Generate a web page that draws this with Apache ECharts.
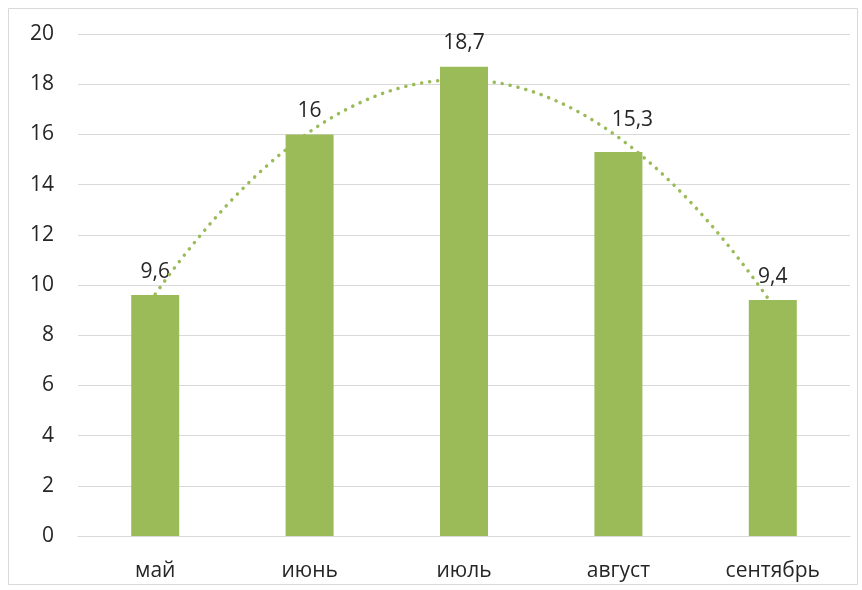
<!DOCTYPE html>
<html>
<head>
<meta charset="utf-8">
<script src="https://cdn.jsdelivr.net/npm/echarts@6/dist/echarts.min.js"></script>
<style>
  html, body { margin: 0; padding: 0; background: #fff; }
  #main { width: 862px; height: 590px; }
</style>
</head>
<body>
<div id="main"></div>
<script>
// months and average temperature
const months = ['май', 'июнь', 'июль', 'август', 'сентябрь'];
const temps = [9.6, 16, 18.7, 15.3, 9.4];
const yTicks = { min: 0, max: 20, interval: 2 };

// polynomial (2nd order) trendline, least squares fit like Excel does
function quadFit(ys) {
  let s = [0, 0, 0, 0, 0], sy = [0, 0, 0];
  ys.forEach((y, i) => {
    for (let k = 0; k < 5; k++) s[k] += Math.pow(i, k);
    for (let k = 0; k < 3; k++) sy[k] += y * Math.pow(i, k);
  });
  const m = [[s[0], s[1], s[2], sy[0]], [s[1], s[2], s[3], sy[1]], [s[2], s[3], s[4], sy[2]]];
  for (let c = 0; c < 3; c++) {
    for (let r = c + 1; r < 3; r++) {
      const f = m[r][c] / m[c][c];
      for (let k = c; k < 4; k++) m[r][k] -= f * m[c][k];
    }
  }
  const x = [0, 0, 0];
  for (let r = 2; r >= 0; r--) {
    let v = m[r][3];
    for (let k = r + 1; k < 3; k++) v -= m[r][k] * x[k];
    x[r] = v / m[r][r];
  }
  return x;
}
const coef = quadFit(temps);
const trend = [];
for (let t = 0; t <= (temps.length - 1) * 20; t++) {
  const xv = t / 20;
  trend.push([xv, coef[0] + coef[1] * xv + coef[2] * xv * xv]);
}

// the август label was dragged up and to the right in the original
const barData = temps.map((v, i) => i === 3 ? { value: v, label: { offset: [14, -8] } } : v);

const font = 'Open Sans, Liberation Sans, sans-serif';
const chart = echarts.init(document.getElementById('main'), null, { renderer: 'canvas' });
chart.setOption({
  animation: false,
  backgroundColor: '#fff',
  graphic: [{
    type: 'rect',
    shape: { x: 8.5, y: 8.5, width: 849, height: 576 },
    style: { fill: 'none', stroke: '#d9d9d9', lineWidth: 1 },
    silent: true
  }],
  grid: { left: 78, right: 12, top: 34, bottom: 54 },
  xAxis: [{
    type: 'category',
    data: months,
    axisLine: { show: true, lineStyle: { color: '#d9d9d9' } },
    axisTick: { show: false },
    axisLabel: { color: '#262626', fontSize: 21, fontFamily: font, margin: 25 }
  }, {
    type: 'value',
    min: -0.5,
    max: temps.length - 0.5,
    show: false
  }],
  yAxis: {
    type: 'value',
    min: yTicks.min,
    max: yTicks.max,
    interval: yTicks.interval,
    axisLine: { show: false },
    axisTick: { show: false },
    splitLine: { lineStyle: { color: '#d9d9d9', width: 1 } },
    axisLabel: { color: '#262626', fontSize: 21, fontFamily: font, margin: 24 }
  },
  series: [{
    type: 'bar',
    data: barData,
    barWidth: 48,
    itemStyle: { color: '#9bbb59' },
    label: {
      show: true,
      position: 'top',
      distance: 13,
      color: '#262626',
      fontSize: 21,
      fontFamily: font,
      formatter: p => String(p.value).replace('.', ',')
    }
  }, {
    type: 'line',
    xAxisIndex: 1,
    data: trend,
    showSymbol: false,
    z: 3,
    lineStyle: { color: '#9bbb59', width: 3.5, type: [0.1, 8], cap: 'round' }
  }]
});
</script>
</body>
</html>
